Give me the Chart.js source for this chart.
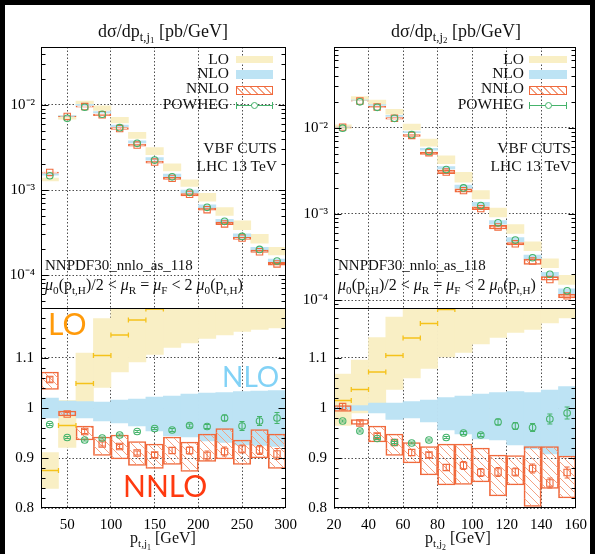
<!DOCTYPE html>
<html><head><meta charset="utf-8">
<script src="https://cdn.jsdelivr.net/npm/chart.js@4"></script>
<style>
html,body{margin:0;padding:0;background:#000;width:595px;height:554px;overflow:hidden}
#paper{position:absolute;left:5px;top:5px;width:585px;height:549px;background:#fff}
canvas{position:absolute;top:0}
.t{position:absolute;font-family:"Liberation Serif","Times New Roman",serif;color:#111;white-space:nowrap;line-height:1}
.t sub{font-size:70%;vertical-align:-0.32em;line-height:0}
.big{position:absolute;font-family:Lato,"Noto Sans",sans-serif;line-height:1;white-space:nowrap}
.sym{position:absolute;box-sizing:border-box}
</style></head>
<body>
<div id="paper"></div>
<canvas id="cL" width="305" height="554" style="left:0"></canvas>
<canvas id="cR" width="297" height="554" style="left:298px"></canvas>

<div class="t" style="left:163px;top:31px;font-size:18px;transform:translate(-50%,-50%)">dσ/dp<sub>t,j<sub>1</sub></sub> [pb/GeV]</div>
<div class="t" style="left:456px;top:31px;font-size:18px;transform:translate(-50%,-50%)">dσ/dp<sub>t,j<sub>2</sub></sub> [pb/GeV]</div>

<!-- legends -->
<div class="t" style="right:366px;top:59px;font-size:15.5px;transform:translateY(-50%)">LO</div>
<div class="t" style="right:366px;top:73px;font-size:15.5px;transform:translateY(-50%)">NLO</div>
<div class="t" style="right:366px;top:88px;font-size:15.5px;transform:translateY(-50%)">NNLO</div>
<div class="t" style="right:366px;top:103.5px;font-size:15.5px;transform:translateY(-50%)">POWHEG</div>
<div class="sym" style="left:236px;top:56px;width:37px;height:7px;background:#f9efc5"></div>
<div class="sym" style="left:236px;top:69.5px;width:37px;height:9px;background:#bde3f4"></div>
<div class="sym" style="left:236px;top:85.5px;width:37px;height:9px;border:1px solid #f0693c;background:repeating-linear-gradient(45deg,rgba(0,0,0,0) 0 4px,#f4a283 4px 5px)"></div>
<div class="sym" style="left:236px;top:104.5px;width:37px;height:1px;background:#45b36b"></div>
<div class="sym" style="left:236px;top:101.5px;width:1px;height:7px;background:#45b36b"></div>
<div class="sym" style="left:272px;top:101.5px;width:1px;height:7px;background:#45b36b"></div>
<div class="sym" style="left:251px;top:101.5px;width:7px;height:7px;border:1px solid #45b36b;border-radius:50%;background:#fff"></div>

<div class="t" style="right:71px;top:59px;font-size:15.5px;transform:translateY(-50%)">LO</div>
<div class="t" style="right:71px;top:73px;font-size:15.5px;transform:translateY(-50%)">NLO</div>
<div class="t" style="right:71px;top:88px;font-size:15.5px;transform:translateY(-50%)">NNLO</div>
<div class="t" style="right:71px;top:103.5px;font-size:15.5px;transform:translateY(-50%)">POWHEG</div>
<div class="sym" style="left:529px;top:56px;width:38px;height:7px;background:#f9efc5"></div>
<div class="sym" style="left:529px;top:69.5px;width:38px;height:9px;background:#bde3f4"></div>
<div class="sym" style="left:529px;top:85.5px;width:38px;height:9px;border:1px solid #f0693c;background:repeating-linear-gradient(45deg,rgba(0,0,0,0) 0 4px,#f4a283 4px 5px)"></div>
<div class="sym" style="left:529px;top:104.5px;width:38px;height:1px;background:#45b36b"></div>
<div class="sym" style="left:529px;top:101.5px;width:1px;height:7px;background:#45b36b"></div>
<div class="sym" style="left:566px;top:101.5px;width:1px;height:7px;background:#45b36b"></div>
<div class="sym" style="left:544.5px;top:101.5px;width:7px;height:7px;border:1px solid #45b36b;border-radius:50%;background:#fff"></div>

<div class="t" style="right:318px;top:148px;font-size:15.5px;transform:translateY(-50%)">VBF CUTS</div>
<div class="t" style="right:318px;top:166px;font-size:15.5px;transform:translateY(-50%)">LHC 13 TeV</div>
<div class="t" style="right:24px;top:148px;font-size:15.5px;transform:translateY(-50%)">VBF CUTS</div>
<div class="t" style="right:24px;top:166px;font-size:15.5px;transform:translateY(-50%)">LHC 13 TeV</div>

<div class="t" style="left:45px;top:265px;font-size:15px;transform:translateY(-50%)">NNPDF30_nnlo_as_118</div>
<div class="t" style="left:338px;top:265px;font-size:15px;transform:translateY(-50%)">NNPDF30_nnlo_as_118</div>
<div class="t" style="left:45px;top:285px;font-size:16px;transform:translateY(-50%)"><i>μ</i><sub>0</sub>(p<sub>t,H</sub>)/2 &lt; <i>μ</i><sub>R</sub> = <i>μ</i><sub>F</sub> &lt; 2 <i>μ</i><sub>0</sub>(p<sub>t,H</sub>)</div>
<div class="t" style="left:338px;top:285px;font-size:16px;transform:translateY(-50%)"><i>μ</i><sub>0</sub>(p<sub>t,H</sub>)/2 &lt; <i>μ</i><sub>R</sub> = <i>μ</i><sub>F</sub> &lt; 2 <i>μ</i><sub>0</sub>(p<sub>t,H</sub>)</div>

<div class="t" style="left:163px;top:539px;font-size:16px;transform:translate(-50%,-50%)">p<sub>t,j<sub>1</sub></sub> [GeV]</div>
<div class="t" style="left:458px;top:539px;font-size:16px;transform:translate(-50%,-50%)">p<sub>t,j<sub>2</sub></sub> [GeV]</div>

<div class="big" style="left:48px;top:308px;font-size:30px;color:#ff9a0a">LO</div>
<div class="big" style="left:222px;top:362px;font-size:28px;color:#82d2f6">NLO</div>
<div class="big" style="left:123px;top:470px;font-size:30px;color:#ff3a10">NNLO</div>

<script>
// ---------------- data ----------------
const edges_j1 = [20,40,60,80,100,120,140,160,180,200,220,240,260,280,300];
const edges_j2 = [20,30,40,50,60,70,80,90,100,110,120,130,140,150,160];
const xTicks_j1 = [50,100,150,200,250,300];
const xTicks_j2 = [20,40,60,80,100,120,140,160];
const logTickVals = [1e-4,1e-3,1e-2];
const logTickLabels = ['10⁻⁴','10⁻³','10⁻²'];
const ratioTickVals = [0.8,0.9,1.0,1.1];
const ratioTickLabels = ['0.8','0.9','1','1.1'];

// p_t,j1 : absolute distributions [pb/GeV]
const loLo_j1   = [1.275e-3,6.82e-3,1.009e-2,8.61e-3,6.13e-3,4.05e-3,2.60e-3,1.68e-3,1.10e-3,7.39e-4,5.01e-4,3.41e-4,2.37e-4,1.73e-4];
const loHi_j1   = [1.385e-3,7.52e-3,1.114e-2,9.75e-3,7.15e-3,4.75e-3,3.15e-3,2.03e-3,1.32e-3,9.15e-4,6.21e-4,4.35e-4,3.01e-4,2.12e-4];
const nloLo_j1  = [1.49e-3,7.30e-3,9.84e-3,8.05e-3,5.55e-3,3.58e-3,2.24e-3,1.42e-3,9.18e-4,6.06e-4,4.07e-4,2.74e-4,1.90e-4,1.38e-4];
const nloHi_j1  = [1.55e-3,7.51e-3,1.017e-2,8.37e-3,5.81e-3,3.78e-3,2.40e-3,1.54e-3,1.00e-3,6.68e-4,4.51e-4,3.06e-4,2.12e-4,1.54e-4];
const nnloLo_j1 = [1.576e-3,7.29e-3,9.40e-3,7.48e-3,5.14e-3,3.28e-3,2.07e-3,1.33e-3,8.50e-4,5.80e-4,3.92e-4,2.63e-4,1.85e-4,1.31e-4];
const nnloHi_j1 = [1.629e-3,7.37e-3,9.68e-3,7.79e-3,5.41e-3,3.46e-3,2.18e-3,1.41e-3,9.08e-4,6.15e-4,4.19e-4,2.77e-4,1.96e-4,1.41e-4];
const nnlo_j1   = [1.607e-3,7.32e-3,9.57e-3,7.67e-3,5.28e-3,3.38e-3,2.13e-3,1.37e-3,8.91e-4,5.87e-4,3.99e-4,2.72e-4,1.88e-4,1.35e-4];
const pow_j1    = [1.47e-3,6.97e-3,9.40e-3,7.77e-3,5.41e-3,3.54e-3,2.25e-3,1.43e-3,9.40e-4,6.25e-4,4.28e-4,2.85e-4,2.00e-4,1.46e-4];
// p_t,j1 : ratios to NLO
const rLoLo_j1   = [0.839,0.921,1.005,1.041,1.072,1.092,1.107,1.121,1.130,1.139,1.146,1.153,1.157,1.160];
const rLoHi_j1   = [0.911,1.015,1.110,1.179,1.25,1.28,1.34,1.35,1.36,1.41,1.42,1.47,1.47,1.42];
const rLo_j1     = [0.875,0.965,1.049,1.105,1.146,1.176,1.198,1.22,1.23,1.25,1.26,1.29,1.30,1.28];
const rNloLo_j1  = [0.980,0.985,0.980,0.974,0.970,0.964,0.954,0.944,0.942,0.934,0.931,0.926,0.925,0.923];
const rNloHi_j1  = [1.020,1.014,1.013,1.012,1.016,1.018,1.022,1.024,1.028,1.030,1.031,1.033,1.034,1.035];
const rNnloLo_j1 = [1.037,0.984,0.936,0.905,0.898,0.885,0.879,0.887,0.873,0.893,0.898,0.887,0.900,0.879];
const rNnloHi_j1 = [1.072,0.994,0.964,0.942,0.946,0.933,0.928,0.942,0.932,0.948,0.959,0.936,0.957,0.948];
const rNnlo_j1   = [1.057,0.988,0.953,0.928,0.923,0.910,0.906,0.915,0.915,0.905,0.913,0.918,0.916,0.908];
const rNnloErr_j1= [0.005,0.003,0.004,0.004,0.004,0.004,0.005,0.006,0.007,0.009,0.009,0.008,0.009,0.011];
const rPow_j1    = [0.967,0.941,0.936,0.940,0.946,0.953,0.959,0.956,0.965,0.963,0.980,0.964,0.974,0.980];
const rPowErr_j1 = [0.002,0.002,0.002,0.002,0.002,0.002,0.002,0.003,0.003,0.004,0.006,0.009,0.009,0.011];

// p_t,j2 : absolute distributions [pb/GeV]
const loLo_j2   = [9.75e-3,2.07e-2,1.85e-2,1.43e-2,9.40e-3,6.10e-3,3.81e-3,2.33e-3,1.49e-3,9.24e-4,5.93e-4,3.74e-4,2.38e-4,1.52e-4];
const loHi_j2   = [1.079e-2,2.29e-2,2.09e-2,1.63e-2,1.10e-2,7.35e-3,4.71e-3,3.02e-3,1.86e-3,1.17e-3,7.50e-4,4.75e-4,3.02e-4,1.94e-4];
const nloLo_j2  = [1.006e-2,2.08e-2,1.81e-2,1.35e-2,8.72e-3,5.49e-3,3.31e-3,1.99e-3,1.24e-3,7.58e-4,4.77e-4,2.97e-4,1.84e-4,1.17e-4];
const nloHi_j2  = [1.014e-2,2.10e-2,1.85e-2,1.39e-2,9.02e-3,5.74e-3,3.53e-3,2.15e-3,1.36e-3,8.35e-4,5.32e-4,3.33e-4,2.10e-4,1.35e-4];
const nnloLo_j2 = [1.003e-2,2.02e-2,1.71e-2,1.25e-2,7.92e-3,4.89e-3,2.93e-3,1.78e-3,1.12e-3,6.67e-4,4.36e-4,2.59e-4,1.70e-4,1.06e-4];
const nnloHi_j2 = [1.015e-2,2.04e-2,1.76e-2,1.31e-2,8.29e-3,5.21e-3,3.21e-3,1.95e-3,1.21e-3,7.34e-4,4.66e-4,2.98e-4,1.87e-4,1.17e-4];
const nnlo_j2   = [1.013e-2,2.03e-2,1.73e-2,1.28e-2,8.11e-3,5.12e-3,3.05e-3,1.86e-3,1.15e-3,7.06e-4,4.49e-4,2.84e-4,1.73e-4,1.12e-4];
const pow_j2    = [9.84e-3,1.99e-2,1.72e-2,1.28e-2,8.28e-3,5.29e-3,3.26e-3,2.00e-3,1.25e-3,7.87e-4,4.96e-4,3.10e-4,1.99e-4,1.28e-4];
// p_t,j2 : ratios to NLO
const rLoLo_j2   = [0.965,0.990,1.010,1.037,1.060,1.079,1.102,1.111,1.128,1.141,1.151,1.157,1.170,1.180];
const rLoHi_j2   = [1.068,1.096,1.141,1.182,1.24,1.30,1.36,1.44,1.41,1.45,1.42,1.45,1.49,1.50];
const rLo_j2     = [1.015,1.037,1.072,1.105,1.140,1.169,1.197,1.25,1.26,1.28,1.29,1.30,1.31,1.32];
const rNloLo_j2  = [0.996,0.995,0.990,0.977,0.980,0.972,0.956,0.948,0.938,0.936,0.926,0.918,0.908,0.904];
const rNloHi_j2  = [1.004,1.005,1.010,1.010,1.013,1.016,1.021,1.024,1.028,1.031,1.033,1.031,1.036,1.043];
const rNnloLo_j2 = [0.993,0.967,0.932,0.905,0.890,0.866,0.846,0.847,0.852,0.824,0.846,0.803,0.839,0.820];
const rNnloHi_j2 = [1.005,0.977,0.964,0.948,0.931,0.923,0.928,0.928,0.920,0.906,0.905,0.923,0.923,0.904];
const rNnlo_j2   = [1.003,0.970,0.944,0.931,0.911,0.906,0.881,0.885,0.871,0.872,0.872,0.879,0.850,0.871];
const rNnloErr_j2= [0.006,0.004,0.005,0.005,0.006,0.005,0.006,0.008,0.008,0.009,0.008,0.009,0.010,0.011];
const rPow_j2    = [0.974,0.954,0.939,0.931,0.930,0.936,0.941,0.950,0.946,0.972,0.964,0.961,0.978,0.990];
const rPowErr_j2 = [0.002,0.002,0.002,0.002,0.002,0.002,0.002,0.003,0.003,0.006,0.007,0.008,0.010,0.012];

// ---------------- style ----------------
const COL = {lo:'#f9efc5', nlo:'#bde3f4', nnlo:'#f0693c', hatch:'#f4a283', pow:'#45b36b', loBar:'#f5c21b'};
const FONT = {family:'"Liberation Serif","Times New Roman",serif', size:15};

function hatchPattern(ctx){
  const s = 8, c = document.createElement('canvas');
  c.width = s; c.height = s;
  const g = c.getContext('2d');
  g.strokeStyle = COL.hatch; g.lineWidth = 1;
  g.beginPath();
  for (const k of [-s, 0, s]) { g.moveTo(k, 0); g.lineTo(k + s, s); }
  g.stroke();
  return ctx.createPattern(c, 'repeat');
}

const clipPlugin = {
  id: 'clipy',
  beforeDatasetDraw(chart, args){
    const ys = chart.scales[args.meta.yAxisID], a = chart.chartArea, ctx = chart.ctx;
    ctx.save(); ctx.beginPath();
    ctx.rect(a.left, ys.top, a.right - a.left, ys.bottom - ys.top);
    ctx.clip();
  },
  afterDatasetDraw(chart){ chart.ctx.restore(); }
};

const framePlugin = {
  id: 'frame',
  afterDraw(chart){
    const ctx = chart.ctx, a = chart.chartArea, yT = chart.scales.yT, yR = chart.scales.yR;
    ctx.save();
    ctx.strokeStyle = '#000'; ctx.lineWidth = 1;
    const L = Math.round(a.left) + 0.5, Rr = Math.round(a.right) - 0.5;
    const tick = (sc, v, len) => {
      const p = Math.round(sc.getPixelForValue(v)) + 0.5;
      ctx.moveTo(L, p); ctx.lineTo(L + len, p);
      ctx.moveTo(Rr, p); ctx.lineTo(Rr - len, p);
    };
    ctx.beginPath();
    for (let e = -5; e <= -1; e++) for (let k = 1; k <= 9; k++) {
      const v = k * Math.pow(10, e);
      if (v > yT.min && v < yT.max) tick(yT, v, k === 1 ? 7 : 4);
    }
    for (let i = 1; i < 20; i++) tick(yR, 0.8 + i * 0.02, i % 5 === 0 ? 7 : 4);
    ctx.stroke();
    ctx.strokeRect(L, Math.round(yT.top) + 0.5, Rr - L, Math.round(yT.bottom - yT.top));
    ctx.strokeRect(L, Math.round(yR.top) + 0.5, Rr - L, Math.round(yR.bottom - yR.top) - 1);
    ctx.restore();
  }
};

function makeChart(id, edges, xTicks, yMin, yMax, pad, T, R){
  const canvas = document.getElementById(id);
  const pattern = hatchPattern(canvas.getContext('2d'));
  const mid = edges.slice(0, -1).map((e, i) => (e + edges[i + 1]) / 2);
  const box = (lo, hi) => mid.map((c, i) => ({x: c, y: [lo[i], hi[i]]}));
  const pts = v => mid.map((c, i) => ({x: c, y: v[i]}));
  const err = (v, e) => mid.flatMap((c, i) => [{x: c, y: v[i] - e[i]}, {x: c, y: v[i] + e[i]}, {x: c, y: null}]);
  const hbar = v => mid.flatMap((c, i) => [{x: edges[i], y: v[i]}, {x: edges[i + 1], y: v[i]}, {x: edges[i + 1], y: null}]);
  const bar = (axis, data, bg, order, extra) => Object.assign({type: 'bar', yAxisID: axis, data, backgroundColor: bg,
      borderWidth: 0, grouped: false, barPercentage: 1, categoryPercentage: 1, order}, extra || {});
  const mark = (axis, data, color, style, r, order) => ({type: 'line', yAxisID: axis, data, showLine: false,
      pointStyle: style, pointRadius: r, pointBorderColor: color, pointBackgroundColor: 'rgba(0,0,0,0)',
      pointBorderWidth: 1.1, borderColor: color, order});
  const seg = (axis, data, color, rot, r, width, order) => ({type: 'line', yAxisID: axis, data, borderColor: color,
      borderWidth: width, pointStyle: 'line', pointRotation: rot, pointRadius: r, pointBorderColor: color,
      pointBorderWidth: width, spanGaps: false, tension: 0, fill: false, order});
  const nnloBox = {borderColor: COL.nnlo, borderWidth: 1, borderSkipped: false};

  const datasets = [
    bar('yT', box(T.loLo, T.loHi), COL.lo, 20),
    bar('yT', box(T.nloLo, T.nloHi), COL.nlo, 19),
    bar('yT', box(T.nnloLo, T.nnloHi), pattern, 18, nnloBox),
    mark('yT', pts(T.nnlo), COL.nnlo, 'rect', 4.5, 4),
    mark('yT', pts(T.pow), COL.pow, 'circle', 3.3, 2),
    bar('yR', box(R.loLo, R.loHi), COL.lo, 20),
    bar('yR', box(R.nloLo, R.nloHi), COL.nlo, 19),
    bar('yR', box(R.nnloLo, R.nnloHi), pattern, 18, nnloBox),
    seg('yR', hbar(R.lo), COL.loBar, 90, 2.5, 1.3, 10),
    seg('yR', err(R.nnlo, R.nnloErr), COL.nnlo, 0, 2.5, 1, 5),
    mark('yR', pts(R.nnlo), COL.nnlo, 'rect', 4.5, 4),
    seg('yR', err(R.pow, R.powErr), COL.pow, 0, 2.5, 1, 3),
    mark('yR', pts(R.pow), COL.pow, 'circle', 3.3, 2)
  ];

  const grid = {color: '#3a3a3a', lineWidth: 0.9, drawTicks: false, offset: false};
  const border = {display: false, dash: [1.5, 2]};
  return new Chart(canvas, {
    type: 'bar',
    data: {datasets},
    options: {
      responsive: false, maintainAspectRatio: false, animation: false, devicePixelRatio: 1, events: [],
      layout: {padding: pad},
      plugins: {legend: {display: false}, tooltip: {enabled: false}, title: {display: false}},
      scales: {
        x: {type: 'linear', min: edges[0], max: edges[edges.length - 1], offset: false, z: 1, grid, border,
            ticks: {font: FONT, color: '#000', padding: 8, autoSkip: false, maxRotation: 0, callback: v => String(v)},
            afterBuildTicks: s => { s.ticks = xTicks.map(v => ({value: v})); },
            afterFit: s => { s.height = 30; }},
        yT: {type: 'logarithmic', position: 'left', stack: 'v', stackWeight: 261, weight: 2, min: yMin, max: yMax,
             offset: false, z: 1, grid, border,
             ticks: {font: FONT, color: '#000', padding: 6, autoSkip: false, callback: (v, i) => logTickLabels[i]},
             afterBuildTicks: s => { s.ticks = logTickVals.map(v => ({value: v})); },
             afterFit: s => { s.width = 36; }},
        yR: {type: 'linear', position: 'left', stack: 'v', stackWeight: 200, weight: 1, min: 0.8, max: 1.2,
             offset: false, z: 1, grid, border,
             ticks: {font: FONT, color: '#000', padding: 7, autoSkip: false, callback: (v, i) => ratioTickLabels[i]},
             afterBuildTicks: s => { s.ticks = ratioTickVals.map(v => ({value: v})); },
             afterFit: s => { s.width = 36; }}
      }
    },
    plugins: [clipPlugin, framePlugin]
  });
}

makeChart('cL', edges_j1, xTicks_j1, 4.1e-5, 4.8e-2, {left: 5, right: 17, top: 47, bottom: 16},
  {loLo: loLo_j1, loHi: loHi_j1, nloLo: nloLo_j1, nloHi: nloHi_j1, nnloLo: nnloLo_j1, nnloHi: nnloHi_j1, nnlo: nnlo_j1, pow: pow_j1},
  {loLo: rLoLo_j1, loHi: rLoHi_j1, lo: rLo_j1, nloLo: rNloLo_j1, nloHi: rNloHi_j1, nnloLo: rNnloLo_j1, nnloHi: rNnloHi_j1,
   nnlo: rNnlo_j1, nnloErr: rNnloErr_j1, pow: rPow_j1, powErr: rPowErr_j1});
makeChart('cR', edges_j2, xTicks_j2, 8.1e-5, 8.6e-2, {left: 0, right: 13, top: 47, bottom: 16},
  {loLo: loLo_j2, loHi: loHi_j2, nloLo: nloLo_j2, nloHi: nloHi_j2, nnloLo: nnloLo_j2, nnloHi: nnloHi_j2, nnlo: nnlo_j2, pow: pow_j2},
  {loLo: rLoLo_j2, loHi: rLoHi_j2, lo: rLo_j2, nloLo: rNloLo_j2, nloHi: rNloHi_j2, nnloLo: rNnloLo_j2, nnloHi: rNnloHi_j2,
   nnlo: rNnlo_j2, nnloErr: rNnloErr_j2, pow: rPow_j2, powErr: rPowErr_j2});
</script>
</body></html>
